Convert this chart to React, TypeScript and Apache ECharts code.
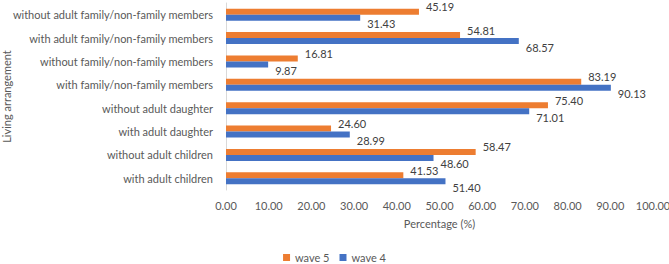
import React, { useEffect, useRef } from "react";
import * as echarts from "echarts";

const categories = [
  "with adult children",
  "without adult children",
  "with adult daughter",
  "without adult daughter",
  "with family/non-family members",
  "without family/non-family members",
  "with adult family/non-family members",
  "without adult family/non-family members",
];
const wave5 = [41.53, 58.47, 24.6, 75.4, 83.19, 16.81, 54.81, 45.19];
const wave4 = [51.4, 48.6, 28.99, 71.01, 90.13, 9.87, 68.57, 31.43];

const FONT = "Lato, sans-serif";
const TEXT = "#595959";
const SIZE = 11;

const valueLabel = (dy: number) => ({
  show: true,
  position: "right",
  distance: 7,
  offset: [0, dy],
  color: "#404040",
  fontSize: SIZE,
  lineHeight: 11,
  fontFamily: FONT,
  formatter: (p: any) => Number(p.value).toFixed(2),
});

export default function App() {
  const ref = useRef<HTMLDivElement>(null);
  useEffect(() => {
    if (!ref.current) return;
    const chart = echarts.init(ref.current, undefined, { renderer: "svg" });
    chart.setOption({
      animation: false,
      textStyle: { fontFamily: FONT },
      grid: {
        left: 226,
        right: 16,
        top: 3,
        bottom: 74,
        containLabel: false,
        outerBoundsMode: "none",
      },
      legend: {
        data: ["wave 5", "wave 4"],
        top: 252,
        left: "center",
        padding: 0,
        itemWidth: 7,
        itemHeight: 7,
        itemGap: 10,
        icon: "rect",
        textStyle: { color: TEXT, fontSize: SIZE, lineHeight: 11, fontFamily: FONT },
      },
      xAxis: {
        type: "value",
        min: 0,
        max: 100,
        interval: 10,
        name: "Percentage (%)",
        nameLocation: "middle",
        nameGap: 28,
        nameTextStyle: { color: TEXT, fontSize: SIZE, fontFamily: FONT },
        axisLine: { show: false },
        axisTick: { show: false },
        splitLine: { show: false },
        axisLabel: {
          color: TEXT,
          fontSize: SIZE,
          margin: 10,
          formatter: (v: number) => v.toFixed(2),
        },
      },
      yAxis: {
        type: "category",
        data: categories,
        name: "Living arrangement",
        nameLocation: "middle",
        nameGap: 214,
        nameRotate: 90,
        nameMoveOverlap: false,
        nameTextStyle: { color: TEXT, fontSize: SIZE, fontFamily: FONT },
        axisLine: { show: true, lineStyle: { color: "#d9d9d9", width: 1 } },
        axisTick: { show: false },
        axisLabel: { color: TEXT, fontSize: SIZE, margin: 13 },
      },
      series: [
        {
          name: "wave 5",
          type: "bar",
          data: wave5,
          barWidth: 6,
          barGap: "0%",
          itemStyle: { color: "#ED7D31" },
          label: valueLabel(-5),
        },
        {
          name: "wave 4",
          type: "bar",
          data: wave4,
          barWidth: 6,
          barGap: "0%",
          itemStyle: { color: "#4472C4" },
          label: valueLabel(6),
        },
      ],
    });
    return () => chart.dispose();
  }, []);
  return (
    <div
      ref={ref}
      style={{ position: "absolute", left: 0, top: 0, width: 669, height: 264 }}
    />
  );
}
